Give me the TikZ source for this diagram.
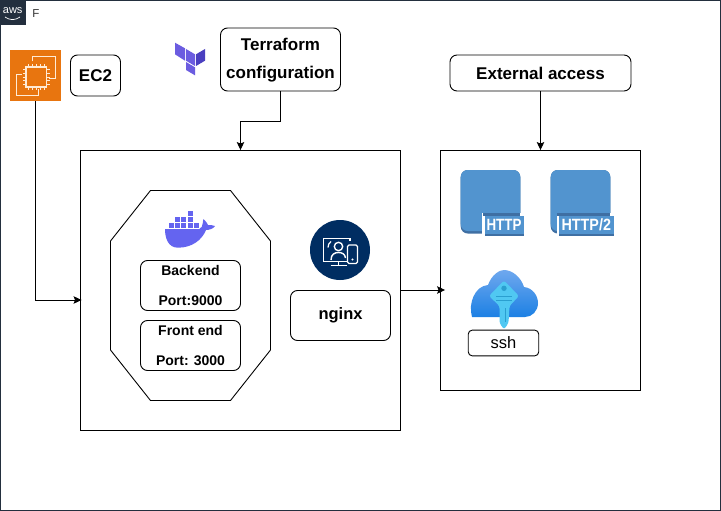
\documentclass[tikz,border=0pt]{standalone}
\usepackage{fontspec}
\setmainfont{Liberation Sans}
\usetikzlibrary{arrows.meta,calc}
\definecolor{awsdark}{HTML}{232F3E}
\definecolor{ec2orange}{HTML}{E8750F}
\definecolor{ec2line}{HTML}{FFEBD6}
\definecolor{tfa}{HTML}{6B5CE0}
\definecolor{tfb}{HTML}{4A3FC0}
\definecolor{dockerblue}{HTML}{6464F0}
\definecolor{ngnavy}{HTML}{002D62}
\definecolor{httpblue}{HTML}{5294CF}
\definecolor{httpdark}{HTML}{3F6FA3}
\definecolor{cloudtop}{HTML}{6FA8EE}
\definecolor{cloudbot}{HTML}{1C80E4}
\definecolor{keyc}{HTML}{50C8F2}
\definecolor{keyd}{HTML}{2A9FD0}
\tikzset{
  x=1pt,y=-1pt,
  plainbox/.style={draw=black,line width=0.9pt,fill=white,inner sep=0pt},
  roundbox/.style={plainbox,rounded corners=7pt,align=center,font=\fontsize{17}{28}\selectfont\bfseries},
  smallbox/.style={roundbox,minimum width=100pt,minimum height=50pt,font=\fontsize{14}{29.5}\selectfont\bfseries},
  link/.style={draw=black,line width=0.9pt,-{Stealth[length=8pt,width=7.5pt,inset=1.5pt]}},
  httpmark/.style={text=white,inner sep=0pt,font=\fontsize{16.3}{16.3}\selectfont\bfseries},
}
\newcommand{\httpicon}[2]{% left x, label left x
  \fill[httpdark,rounded corners=7pt] (#1,170) rectangle ++(59.6,63.5);
  \fill[httpblue,rounded corners=7pt] (#1,170) rectangle ++(59.6,61);
  \fill[white] (#2,212.5) rectangle (#1+63.5,236.5);
  \fill[httpdark] (#2+0.3,212.7) rectangle (#1+59.6,216.2);
  \fill[httpblue] (#2+2.7,215.5) rectangle (#1+63,234);
  \fill[httpdark] (#2+2.7,234) rectangle (#1+63,236);
}
\begin{document}
\begin{tikzpicture}
\useasboundingbox (0,0) rectangle (721,511);
\fill[white] (0,0) rectangle (721,511);
\draw[awsdark,line width=1pt] (0.5,0.5) rectangle (720.5,510.5);
% AWS tab
\fill[awsdark] (0,0) rectangle (25.5,25.5);
\node[text=white,inner sep=0pt,font=\fontsize{11}{11}\selectfont] (awstext) at (12.7,11) {aws};
\draw[white,line width=0.7pt] (5,17) .. controls (10,20.5) and (15,20.5) .. (20,17);
\node[inner sep=0pt,font=\fontsize{11.5}{12}\selectfont,text=black!80] (ftitle) at (36,13.5) {F};
% main boxes
\node[plainbox,minimum width=320pt,minimum height=280pt] (main) at (240.5,290.5) {};
\node[plainbox,minimum width=200pt,minimum height=240pt] (ext) at (540.5,270.5) {};
% EC2
\node[fill=ec2orange,minimum width=51pt,minimum height=51pt,inner sep=0pt] (ec2icon) at (35.5,75.5) {};
\begin{scope}[ec2line,line width=0.9pt]
  \draw (32.5,61.5) -- (32.5,56) -- (55,56) -- (55,78.5) -- (49,78.5);
  \draw (21.5,74) -- (16,74) -- (16,95) -- (38.5,95) -- (38.5,89.5);
  \draw[line width=1.1pt] (26,67) rectangle (46.5,87);
  \foreach \k in {0,1,2,3,4}{
    \draw (28.5+\k*3.9,67) -- ++(0,-3);
    \draw (28.5+\k*3.9,87) -- ++(0,3);
    \draw (26,69.2+\k*3.9) -- ++(-3,0);
    \draw (46.5,69.2+\k*3.9) -- ++(3,0);
  }
\end{scope}
\node[roundbox,minimum width=50pt,minimum height=41pt] (ec2label) at (95.5,75.5) {EC2};
% Terraform
\fill[tfa] (175,42.7) -- (185,48.3) -- (185,60.7) -- (175,54.3) -- cycle;
\fill[tfa] (186,49) -- (195,54.3) -- (195,66) -- (186,60.7) -- cycle;
\fill[tfb] (196,54.3) -- (205,49) -- (205,60.7) -- (196,66) -- cycle;
\fill[tfa] (186,62) -- (195,67.3) -- (195,75.3) -- (186,70) -- cycle;
\node[roundbox,minimum width=120pt,minimum height=63pt] (tf) at (280.5,59.5) {\rule{0pt}{14.6pt}Terraform\\configuration};
% External access
\node[roundbox,minimum width=181pt,minimum height=36pt] (access) at (540.5,73) {External access};
% Octagon
\draw[black,line width=0.9pt,fill=white] (150.5,190.5) -- (230.5,190.5) -- (270.5,241) -- (270.5,350) -- (230.5,400.5) -- (150.5,400.5) -- (110.5,350) -- (110.5,241) -- cycle;
% Docker
\fill[dockerblue] (165,229) -- (199.3,229) .. controls (201.5,228) and (202.5,226) .. (202.7,223.5)
  .. controls (203,221) and (203.2,220) .. (203.5,219) .. controls (206,221) and (207.5,224) .. (208,225)
  .. controls (210,224.8) and (213,225.2) .. (215,226) .. controls (213,229) and (209,230) .. (206,230)
  .. controls (202,240) and (192,247.7) .. (178,247.7) .. controls (168,247.7) and (165,238) .. (165,229) -- cycle;
\foreach \sx/\sy in {187.7/211.4, 175/217.4,181.4/217.4,187.7/217.4, 169/222.8,175/222.8,181.4/222.8,187.7/222.8,194/222.8}
  \fill[dockerblue] (\sx,\sy) rectangle ++(5,4.8);
\node[smallbox] (backend) at (190.5,285.5) {Backend\\Port:9000};
\node[smallbox] (frontend) at (190.5,345.5) {Front end\\Port: 3000};
% nginx
\fill[ngnavy] (340,250) circle (30);
\begin{scope}[white,line width=1.1pt]
  \draw (350,241) -- (350,238.5) -- (323.5,238.5) -- (323.5,261.5) -- (346.5,261.5);
  \draw (338.5,261.5) -- (338.5,265);
  \draw (330.5,265.5) -- (346.5,265.5);
  \draw[line width=1.4pt] (338.5,246.5) circle (4.2);
  \draw[line width=1.4pt] (331,260) .. controls (331,254) and (335,252.5) .. (338.5,252.5) .. controls (342,252.5) and (345,254) .. (345.5,258);
  \draw[line width=1.2pt] (328,247.5) .. controls (328,245) and (329,243) .. (331,241.5);
  \draw[fill=ngnavy,rounded corners=1.5pt,line width=1.3pt] (347.5,245) rectangle (357.5,263.5);
  \fill (352.5,259.5) circle (1.1);
\end{scope}
\node[roundbox,minimum width=100pt,minimum height=50pt,font=\fontsize{16.5}{20}\selectfont\bfseries] (nginx) at (340.5,315.5) {nginx};
% HTTP icons
\httpicon{460.7}{482.3}
\node[httpmark,xscale=0.82] (http1) at (504,224.5) {HTTP};
\httpicon{550.7}{556.7}
\node[httpmark,xscale=0.88] (http2) at (586.3,224.5) {HTTP/2};
% ssh key cloud
\shade[top color=cloudtop,bottom color=cloudbot]
  (472,317) .. controls (468,303) and (475,286) .. (488,285)
  .. controls (492,274) and (500,270) .. (504,270)
  .. controls (512,270) and (521,277) .. (524,287)
  .. controls (533,288) and (538,296) .. (538,303)
  .. controls (538,311) and (532,317) .. (525,317) -- cycle;
\fill[keyc,rounded corners=2.5pt] (504,280.5) -- (519,296) -- (509.5,306) -- (508.5,323) -- (504,329.5) -- (499.5,323) -- (499.5,306) -- (489,296) -- cycle;
\fill[keyd] (504,288.3) circle (2.7);
\draw[keyd,line width=0.8pt] (496,296.5) -- (512,296.5) (496,300) -- (512,300);
\draw[keyd,line width=0.8pt] (505,308) -- (505,322);
\node[roundbox,minimum width=70.5pt,minimum height=25.7pt,rounded corners=4pt,font=\fontsize{16.5}{18}\selectfont\mdseries] (ssh) at (503.5,343) {ssh};
% connectors
\draw[link] (ec2icon.south) |- ([yshift=-9.5pt,xshift=1.5pt]main.west);
\draw[link] (tf.south) -- ++(0,30) -| (main.north);
\draw[link] (access.south) -- (ext.north-|access.south);
\draw[link] ([yshift=0.5pt]main.east) -- ([yshift=0.5pt,xshift=5pt]main.east-|ext.west);
\end{tikzpicture}
\end{document}
